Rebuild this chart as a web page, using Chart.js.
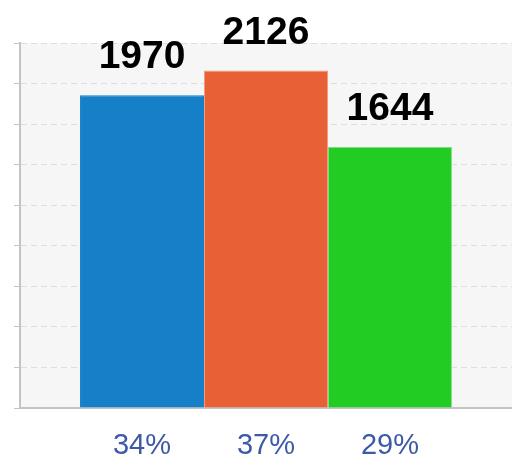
<!DOCTYPE html>
<html>
<head>
<meta charset="utf-8">
<script src="https://cdn.jsdelivr.net/npm/chart.js@4"></script>
<style>
  html, body { margin: 0; padding: 0; background: #fff; }
  #wrap { width: 512px; height: 457px; }
</style>
</head>
<body>
<div id="wrap"><canvas id="grafico"></canvas></div>
<script>
const categorias = ['A', 'B', 'C'];
const valores = [1970, 2126, 1644];
const porcentajes = ['34%', '37%', '29%'];
const colores = ['#1580c8', '#e86035', '#22cc22'];
const bordes = ['#1580c8', '#f59a80', '#7ee07e'];

// fondo gris del area de trazado
const fondoArea = {
    id: 'fondoArea',
    beforeDraw(chart) {
        const { ctx, chartArea: a } = chart;
        ctx.save();
        ctx.fillStyle = '#f6f6f6';
        ctx.fillRect(a.left, a.top, a.right - a.left, a.bottom - a.top);
        ctx.restore();
    }
};

// valores encima de cada barra y porcentajes debajo
const etiquetas = {
    id: 'etiquetas',
    afterDatasetsDraw(chart) {
        const { ctx, chartArea } = chart;
        ctx.save();
        ctx.textAlign = 'center';
        ctx.textBaseline = 'alphabetic';
        chart.data.datasets.forEach((ds, i) => {
            const barra = chart.getDatasetMeta(i).data[0];
            ctx.fillStyle = '#000';
            ctx.font = 'bold 39px "Liberation Sans", Arial, sans-serif';
            ctx.fillText(String(ds.data[0]), barra.x, barra.y - 27);
            ctx.fillStyle = '#3d5aa8';
            ctx.font = '29px "Liberation Sans", Arial, sans-serif';
            ctx.fillText(porcentajes[i], barra.x, chartArea.bottom + 46);
        });
        ctx.restore();
    }
};

const grafica = new Chart(document.getElementById('grafico'), {
    type: 'bar',
    data: {
        labels: [''],
        datasets: categorias.map((c, i) => ({
            label: c,
            data: [valores[i]],
            backgroundColor: colores[i],
            borderColor: bordes[i],
            borderWidth: 1
        }))
    },
    options: {
        responsive: true,
        maintainAspectRatio: false,
        animation: false,
        layout: { padding: { left: 14, top: 43, right: 0, bottom: 41 } },
        plugins: { legend: { display: false }, tooltip: { enabled: false } },
        datasets: { bar: { categoryPercentage: 0.756, barPercentage: 1 } },
        scales: {
            x: {
                ticks: { display: false },
                grid: { display: false },
                border: { display: true, color: '#c4c4c4', width: 2 }
            },
            y: {
                min: 0,
                max: 2300,
                ticks: { display: false, count: 10 },
                grid: {
                    color: '#dedede',
                    tickColor: '#c4c4c4',
                    tickLength: 6,
                    tickBorderDash: [],
                    lineWidth: 1
                },
                border: { display: true, color: '#c4c4c4', width: 2, dash: [6, 4] }
            }
        }
    },
    plugins: [fondoArea, etiquetas]
});
</script>
</body>
</html>
